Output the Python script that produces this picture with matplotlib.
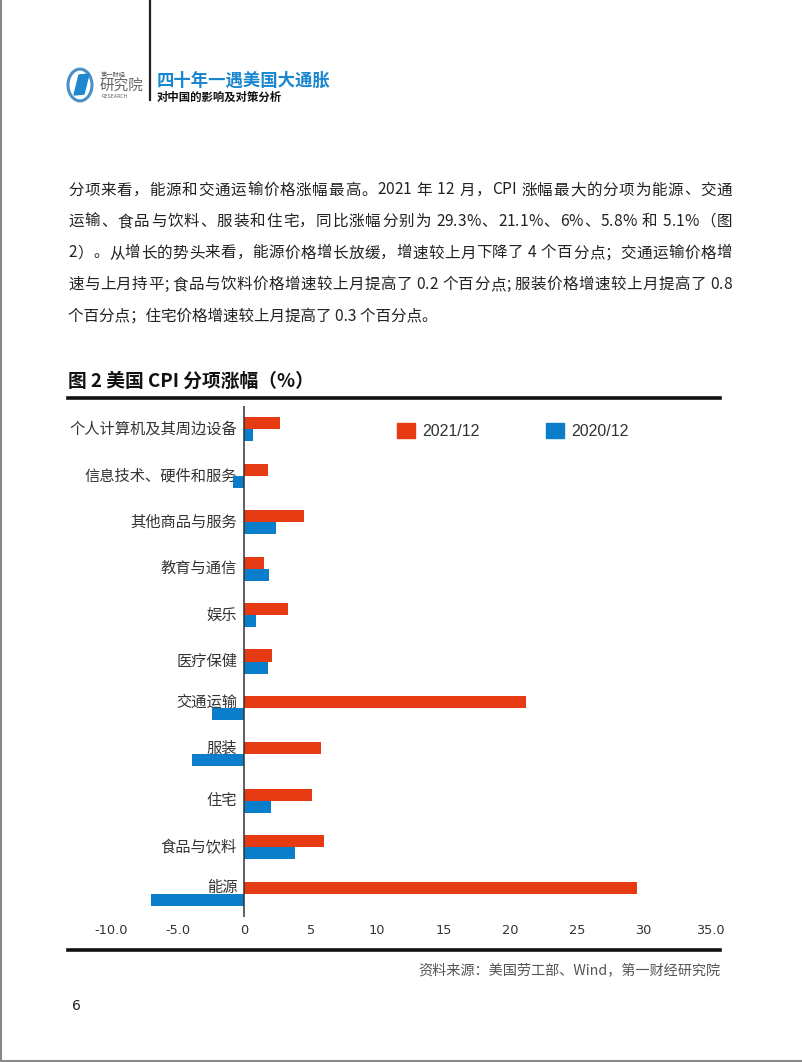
import numpy as np
import matplotlib as mpl
import matplotlib.pyplot as plt
import matplotlib.patches as mpatches

# 分项名称（从上到下）
categories = ['个人计算机及其周边设备', '信息技术、硬件和服务', '其他商品与服务', '教育与通信',
              '娱乐', '医疗保健', '交通运输', '服装', '住宅', '食品与饮料', '能源']
val_2021 = [2.7, 1.8, 4.5, 1.5, 3.3, 2.1, 21.2, 5.8, 5.1, 6.0, 29.5]
val_2020 = [0.7, -0.8, 2.4, 1.9, 0.9, 1.8, -2.4, -3.9, 2.0, 3.8, -7.0]
series_names = ['2021/12', '2020/12']
xticks = [-10, -5, 0, 5, 10, 15, 20, 25, 30, 35]
xtick_labels = ['-10.0', '-5.0', '0', '5', '10', '15', '20', '25', '30', '35.0']

paragraph = [
    '分项来看，能源和交通运输价格涨幅最高。2021 年 12 月，CPI 涨幅最大的分项为能源、交通',
    '运输、食品与饮料、服装和住宅，同比涨幅分别为 29.3%、21.1%、6%、5.8% 和 5.1%（图',
    '2）。从增长的势头来看，能源价格增长放缓，增速较上月下降了 4 个百分点；交通运输价格增',
    '速与上月持平; 食品与饮料价格增速较上月提高了 0.2 个百分点; 服装价格增速较上月提高了 0.8',
    '个百分点；住宅价格增速较上月提高了 0.3 个百分点。',
]

RED = '#E53A12'
BLUE = '#0A7ECB'
W, H = 802, 1062

plt.rcParams['font.family'] = ['Noto Sans CJK SC', 'DejaVu Sans']


def fx(x):
    return x / W


def fy(y):
    return 1 - y / H


fig = plt.figure(figsize=(W / 100, H / 100), dpi=100, facecolor='w')
renderer = fig.canvas.get_renderer()


def text_width(s, **kw):
    t = fig.text(0, 0, s + '|', **kw)
    w = t.get_window_extent(renderer).width
    t.remove()
    return w


def justify(line, x0, x1, y, **kw):
    # 两端对齐：逐字放置，把多余的空隙平均分给中文字符之间
    bar_w = text_width('', **kw)
    offs = [text_width(line[:k], **kw) - bar_w for k in range(len(line) + 1)]
    gaps = [k for k in range(1, len(line))
            if not (line[k - 1].isascii() and line[k].isascii() and line[k - 1] != ' ' and line[k] != ' ')]
    extra = (x1 - x0 - offs[-1]) / max(len(gaps), 1)
    shift = 0
    for k, ch in enumerate(line):
        if k in gaps:
            shift += extra
        if ch != ' ':
            fig.text(fx(x0 + offs[k] + shift), fy(y), ch, va='center', **kw)


# ---- 页眉 ----
fig.add_artist(plt.Line2D([fx(150), fx(150)], [fy(0), fy(100)], color='#222', lw=1.6))
fig.add_artist(mpatches.Circle((fx(80), fy(85)), 12 / W, transform=fig.transFigure,
                               fill=False, edgecolor='#4a90c8', lw=2.2))
fig.add_artist(mpatches.Polygon([(fx(74), fy(95)), (fx(79), fy(75)), (fx(89), fy(74)), (fx(84), fy(94))],
                                closed=True, transform=fig.transFigure, color='#1f86d0'))
fig.text(fx(101), fy(75), '第一财经', fontsize=4.5, color='#555', va='center')
fig.text(fx(100), fy(86), '研究院', fontsize=10.5, color='#666', va='center')
fig.text(fx(101), fy(97), 'RESEARCH', fontsize=3.5, color='#666', va='center', family='DejaVu Sans')
fig.text(fx(157), fy(81), '四十年一遇美国大通胀', fontsize=12.5, fontweight='bold', color='#1a86d0', va='center')
fig.text(fx(157), fy(97), '对中国的影响及对策分析', fontsize=8.2, fontweight='bold', color='#111', va='center')

# ---- 正文 ----
for i, line in enumerate(paragraph):
    if i < len(paragraph) - 1:
        justify(line, 68, 732, 190 + i * 31.5, fontsize=11.2, color='#222')
    else:
        fig.text(fx(68), fy(190 + i * 31.5), line, fontsize=11.2, color='#222', va='center')

# ---- 图标题 ----
fig.text(fx(68), fy(381), '图 2 美国 CPI 分项涨幅（%）', fontsize=13.5, fontweight='bold', color='#111', va='center')
fig.add_artist(plt.Line2D([fx(68), fx(720)], [fy(398), fy(398)], color='#111', lw=2.6))
fig.add_artist(plt.Line2D([fx(68), fx(720)], [fy(950), fy(950)], color='#111', lw=2.6))
fig.text(fx(720), fy(970), '资料来源：美国劳工部、Wind，第一财经研究院', fontsize=10.2, color='#555',
         ha='right', va='center')
fig.text(fx(72), fy(1006), '6', fontsize=10, color='#222', va='center', family='DejaVu Sans')

# 页面边框
fig.add_artist(plt.Line2D([fx(0.8), fx(0.8)], [fy(0), fy(1061)], color='#888', lw=1.5))
fig.add_artist(plt.Line2D([fx(0), fx(802)], [fy(1061), fy(1061)], color='#888', lw=1.5))

# ---- 条形图 ----
ax = fig.add_axes([fx(111), fy(917), (710 - 111) / W, (917 - 406) / H])
y = np.arange(len(categories))
h = 0.26
ax.barh(y - h / 2, val_2021, height=h, color=RED, label=series_names[0], zorder=3)
ax.barh(y + h / 2, val_2020, height=h, color=BLUE, label=series_names[1], zorder=3)
ax.axvline(0, color='#333', lw=1.1, zorder=4)
ax.set_xlim(-10, 35)
ax.set_ylim(len(categories) - 0.5, -0.5)
ax.set_yticks([])
ax.set_xticks(xticks)
ax.set_xticklabels(xtick_labels, family='DejaVu Sans', fontsize=9.3, color='#333')
ax.tick_params(axis='x', length=0, pad=5)
for s in ax.spines.values():
    s.set_visible(False)
for i, c in enumerate(categories):
    # 负值较大的分项，标签放在红色条旁边（与原图一致）
    yc = i - h / 2 if val_2020[i] < -2 else i
    ax.annotate(c, (0, yc), xytext=(-5, 0), textcoords='offset points', ha='right', va='center',
                fontsize=11, color='#333', zorder=1, annotation_clip=False)

patchs = [mpatches.Patch(color=RED, label=series_names[0]),
          mpatches.Patch(color=BLUE, label=series_names[1])]
ax.legend(handles=patchs, ncol=2, frameon=False, loc='upper left',
          bbox_to_anchor=(fx(397), fy(423)), bbox_transform=fig.transFigure,
          borderpad=0, borderaxespad=0, handlelength=1.1, handleheight=1.1,
          handletextpad=0.45, columnspacing=4.2,
          prop={'family': ['Liberation Sans', 'DejaVu Sans'], 'size': 11.5})
for t in ax.get_legend().get_texts():
    t.set_color('#333')

fig.savefig('out.png', dpi=100, facecolor='w')
